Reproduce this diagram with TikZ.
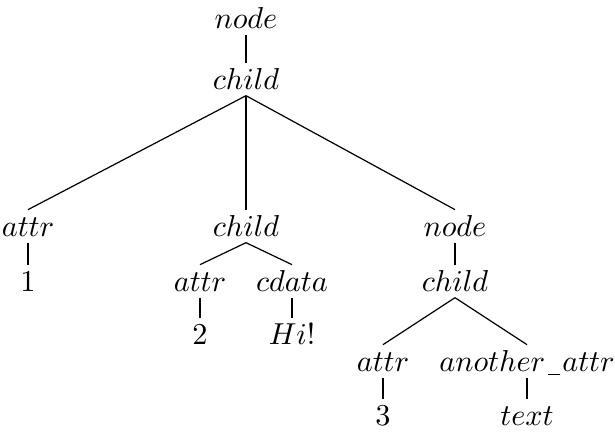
\documentclass[tikz,border=0pt]{standalone}
\newcommand\lowusc{\kern.08em\rule[-1.3pt]{.42em}{.45pt}\kern.06em}
\begin{document}
\begin{tikzpicture}[x=0.33pt,y=-0.33pt,
  lab/.style={anchor=base,inner xsep=0pt,inner ysep=1.5pt,text height=7pt,text depth=0.5pt},
  edge/.style={draw=black,line width=0.4pt}]
\useasboundingbox (0,0) rectangle (615,434);
\node[lab] (root) at (246,28) {$node$};
\node[lab] (c0) at (246,89) {$child$};
\node[lab] (a1) at (28,236) {$attr$};
\node[lab] (v1) at (28,291) {$1$};
\node[lab] (c1) at (246,236) {$child$};
\node[lab] (a2) at (200,291) {$attr$};
\node[lab] (d2) at (292,291) {$cdata$};
\node[lab] (v2) at (200,344) {$2$};
\node[lab] (hi) at (292,344) {$Hi!$};
\node[lab] (n3) at (455,236) {$node$};
\node[lab] (c3) at (455,291) {$child$};
\node[lab] (a3) at (383,371) {$attr$};
\node[lab] (aa) at (527,371) {$another\lowusc attr$};
\node[lab] (v3) at (383,425) {$3$};
\node[lab] (tx) at (527,425) {$text$};
\draw[edge] (root.south) -- (c0.north);
\draw[edge] (c0.south) -- (a1.north);
\draw[edge] (c0.south) -- (c1.north);
\draw[edge] (c0.south) -- (n3.north);
\draw[edge] (a1.south) -- (v1.north);
\draw[edge] (c1.south) -- (a2.north);
\draw[edge] (c1.south) -- (d2.north);
\draw[edge] (a2.south) -- (v2.north);
\draw[edge] (d2.south) -- (hi.north);
\draw[edge] (n3.south) -- (c3.north);
\draw[edge] (c3.south) -- (a3.north);
\draw[edge] (c3.south) -- (aa.north);
\draw[edge] (a3.south) -- (v3.north);
\draw[edge] (aa.south) -- (tx.north);
\end{tikzpicture}
\end{document}
